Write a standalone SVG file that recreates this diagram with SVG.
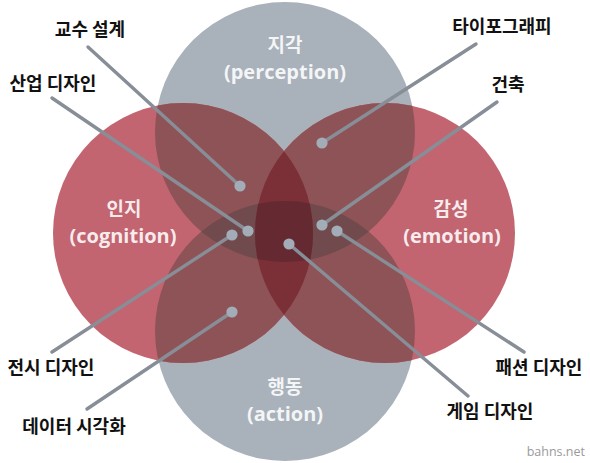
<svg xmlns="http://www.w3.org/2000/svg" width="590" height="463" viewBox="0 0 590 463">
<style>
.gray{fill:#a9b1ba}
.red{fill:#c26571}
.clab{font-family:"Open Sans","Noto Sans CJK KR",sans-serif;font-weight:700;fill:#ffffff;fill-opacity:0.88;text-anchor:middle}
.ko{font-family:"Noto Sans CJK KR",sans-serif;font-size:19px}
.la{font-size:20px}
.lbl{font-family:"Noto Sans CJK KR",sans-serif;font-weight:700;font-size:18px;fill:#111111;text-anchor:middle}
.con{stroke:#878e97;stroke-width:3.4;fill:none;stroke-linecap:round}
</style>
<defs>
<clipPath id="cT"><circle cx="285" cy="132" r="130"/></clipPath>
<clipPath id="cB"><circle cx="285" cy="331" r="130"/></clipPath>
<clipPath id="cL"><circle cx="183" cy="233" r="130"/></clipPath>
<clipPath id="cR"><circle cx="385" cy="233" r="130"/></clipPath>
<marker id="dot" markerUnits="userSpaceOnUse" markerWidth="14" markerHeight="14" refX="7" refY="7" viewBox="0 0 14 14">
<circle cx="7" cy="7" r="5.6" fill="#a3adb8"/>
</marker>
</defs>
<rect width="590" height="463" fill="#ffffff"/>
<g id="perception"><circle class="gray" cx="285" cy="132" r="130"/></g>
<g id="action"><circle class="gray" cx="285" cy="331" r="130"/></g>
<g id="cognition"><circle class="red" cx="183" cy="233" r="130"/></g>
<g id="emotion"><circle class="red" cx="385" cy="233" r="130"/></g>
<g id="overlaps">
<g clip-path="url(#cT)"><circle cx="183" cy="233" r="130" fill="#8e5356"/><circle cx="385" cy="233" r="130" fill="#8e5356"/></g>
<g clip-path="url(#cB)"><circle cx="183" cy="233" r="130" fill="#8e5356"/><circle cx="385" cy="233" r="130" fill="#8e5356"/></g>
<g clip-path="url(#cT)"><circle cx="285" cy="331" r="130" fill="#714a4d"/></g>
<g clip-path="url(#cL)"><circle cx="385" cy="233" r="130" fill="#7b2f37"/></g>
<g clip-path="url(#cT)"><g clip-path="url(#cB)"><g clip-path="url(#cL)"><circle cx="385" cy="233" r="130" fill="#652a31"/></g></g></g>
</g>
<g id="circle-labels">
<text class="clab ko" x="285" y="52">지각</text>
<text class="clab la" x="285" y="79">(perception)</text>
<text class="clab ko" x="124" y="216">인지</text>
<text class="clab la" x="123" y="243">(cognition)</text>
<text class="clab ko" x="451" y="216">감성</text>
<text class="clab la" x="452" y="243">(emotion)</text>
<text class="clab ko" x="285" y="394">행동</text>
<text class="clab la" x="285" y="421">(action)</text>
</g>
<g id="connectors">
<line class="con" x1="88" y1="47" x2="240" y2="186" marker-end="url(#dot)"/>
<line class="con" x1="52" y1="98" x2="248" y2="231" marker-end="url(#dot)"/>
<line class="con" x1="476" y1="44" x2="322" y2="143" marker-end="url(#dot)"/>
<line class="con" x1="497" y1="102" x2="322" y2="225" marker-end="url(#dot)"/>
<line class="con" x1="52" y1="352" x2="232" y2="235" marker-end="url(#dot)"/>
<line class="con" x1="87" y1="409" x2="232" y2="312" marker-end="url(#dot)"/>
<line class="con" x1="524" y1="352" x2="337" y2="231" marker-end="url(#dot)"/>
<line class="con" x1="468" y1="396" x2="289" y2="244" marker-end="url(#dot)"/>
</g>
<g id="labels">
<text class="lbl" x="90" y="36">교수 설계</text>
<text class="lbl" x="53" y="90">산업 디자인</text>
<text class="lbl" x="502" y="33">타이포그래피</text>
<text class="lbl" x="508" y="91">건축</text>
<text class="lbl" x="51" y="374">전시 디자인</text>
<text class="lbl" x="74" y="433">데이터 시각화</text>
<text class="lbl" x="539" y="374">패션 디자인</text>
<text class="lbl" x="490" y="418">게임 디자인</text>
</g>
<text x="585" y="456" text-anchor="end" font-family="Open Sans, sans-serif" font-size="12.5" fill="#9a9a9a">bahns.net</text>
</svg>
